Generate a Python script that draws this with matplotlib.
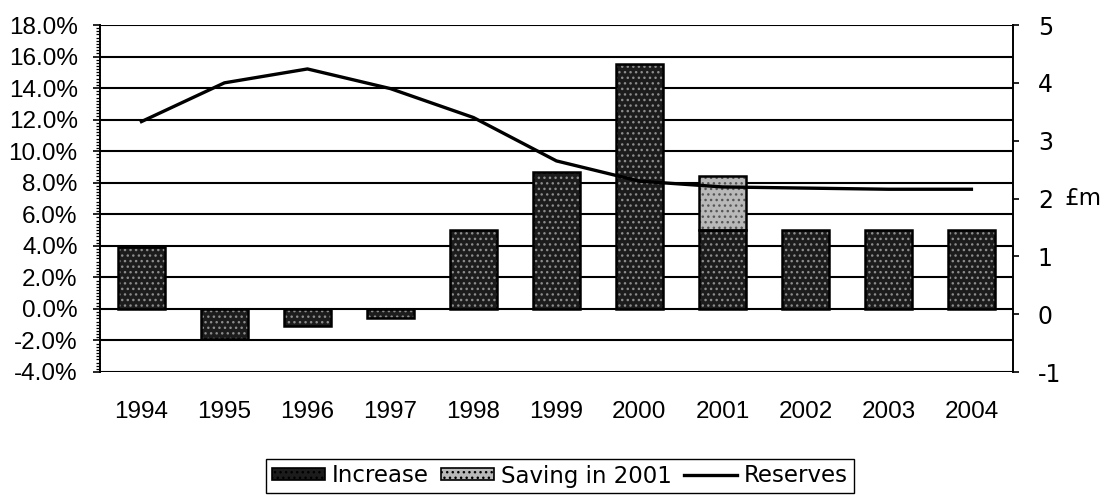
import matplotlib
matplotlib.use('Agg')
import matplotlib.pyplot as plt
import numpy as np
from matplotlib.patches import Patch
from matplotlib.lines import Line2D
from matplotlib.ticker import MultipleLocator, FuncFormatter

plt.rcParams['axes.unicode_minus'] = False

years = ['1994', '1995', '1996', '1997', '1998', '1999',
         '2000', '2001', '2002', '2003', '2004']
increase = [3.9, -1.9, -1.1, -0.6, 5.0, 8.7, 15.5, 5.0, 5.0, 5.0, 5.0]
saving_2001 = [0, 0, 0, 0, 0, 0, 0, 3.4, 0, 0, 0]
reserves = [3.33, 4.0, 4.24, 3.9, 3.4, 2.65, 2.3, 2.2, 2.18, 2.16, 2.16]

DARK = '#1c1c1c'
LIGHT = '#b8b8b8'


def draw_bars(ax, x, values, bottom, face, hatch_color, width=0.57):
    """
    Draws speckled bars: a filled layer, a hatch layer and a black outline.
    """
    ax.bar(x, values, width, bottom=bottom, color=face, linewidth=0, zorder=2)
    ax.bar(x, values, width, bottom=bottom, fill=False, hatch='...',
           edgecolor=hatch_color, linewidth=0, zorder=3)
    ax.bar(x, values, width, bottom=bottom, fill=False,
           edgecolor='black', linewidth=1.8, zorder=4)


def plot_chart():
    fig, ax = plt.subplots(figsize=(11.07, 5.0), dpi=100)
    fig.subplots_adjust(left=0.0903, right=0.915, top=0.95, bottom=0.256)

    x = np.arange(len(years))
    inc = np.array(increase)
    sav = np.array(saving_2001)

    draw_bars(ax, x, inc, 0, DARK, '#8c8c8c')
    mask = sav > 0
    draw_bars(ax, x[mask], sav[mask], inc[mask], LIGHT, '#555555')

    ax.set_xlim(-0.5, len(years) - 0.5)
    ax.set_ylim(-4, 18)
    ax.yaxis.set_major_locator(MultipleLocator(2))
    ax.yaxis.set_minor_locator(MultipleLocator(0.2))
    ax.yaxis.set_major_formatter(FuncFormatter(lambda v, p: f'{v:.1f}%'))
    ax.set_xticks(x)
    ax.set_xticklabels(years)

    ax.set_axisbelow(True)
    ax.grid(axis='y', which='major', color='black', linewidth=1.5)
    grid = ax.yaxis.get_gridlines()
    grid[0].set_visible(False)
    grid[-1].set_visible(False)

    for side in ['top', 'bottom', 'right']:
        ax.spines[side].set_visible(False)
    ax.spines['left'].set_linewidth(1.4)
    ax.tick_params(axis='x', length=0, pad=21, labelsize=17.5,
                   labelfontfamily='Liberation Sans')
    ax.tick_params(axis='y', which='major', length=5, width=1.2, pad=11,
                   labelsize=17.5, labelfontfamily='Liberation Sans')
    ax.tick_params(axis='y', which='minor', length=3, width=0.9)

    ax2 = ax.twinx()
    ax2.plot(x, reserves, color='black', linewidth=2.4, zorder=5)
    ax2.set_ylim(-1, 5)
    ax2.yaxis.set_major_locator(MultipleLocator(1))
    for side in ['top', 'bottom', 'left']:
        ax2.spines[side].set_visible(False)
    ax2.spines['right'].set_linewidth(1.4)
    ax2.tick_params(axis='y', length=4, width=1.2, pad=14, labelsize=17)
    ax2.set_ylabel('£m', rotation=0, fontsize=16.5, labelpad=16, va='center')

    handles = [
        Patch(facecolor=DARK, edgecolor='black', hatch='...', linewidth=1.2),
        Patch(facecolor=LIGHT, edgecolor='black', hatch='...', linewidth=1.2),
        Line2D([0], [0], color='black', linewidth=2.4),
    ]
    fig.legend(handles, ['Increase', 'Saving in 2001', 'Reserves'],
               loc='center', bbox_to_anchor=(0.506, 0.048), ncol=3,
               fancybox=False, edgecolor='black', framealpha=1,
               fontsize=16.5, handlelength=2.3, handleheight=0.45,
               handletextpad=0.3, columnspacing=0.55, borderpad=0.25,
               borderaxespad=0)

    fig.savefig('out.png', dpi=100)


plot_chart()
